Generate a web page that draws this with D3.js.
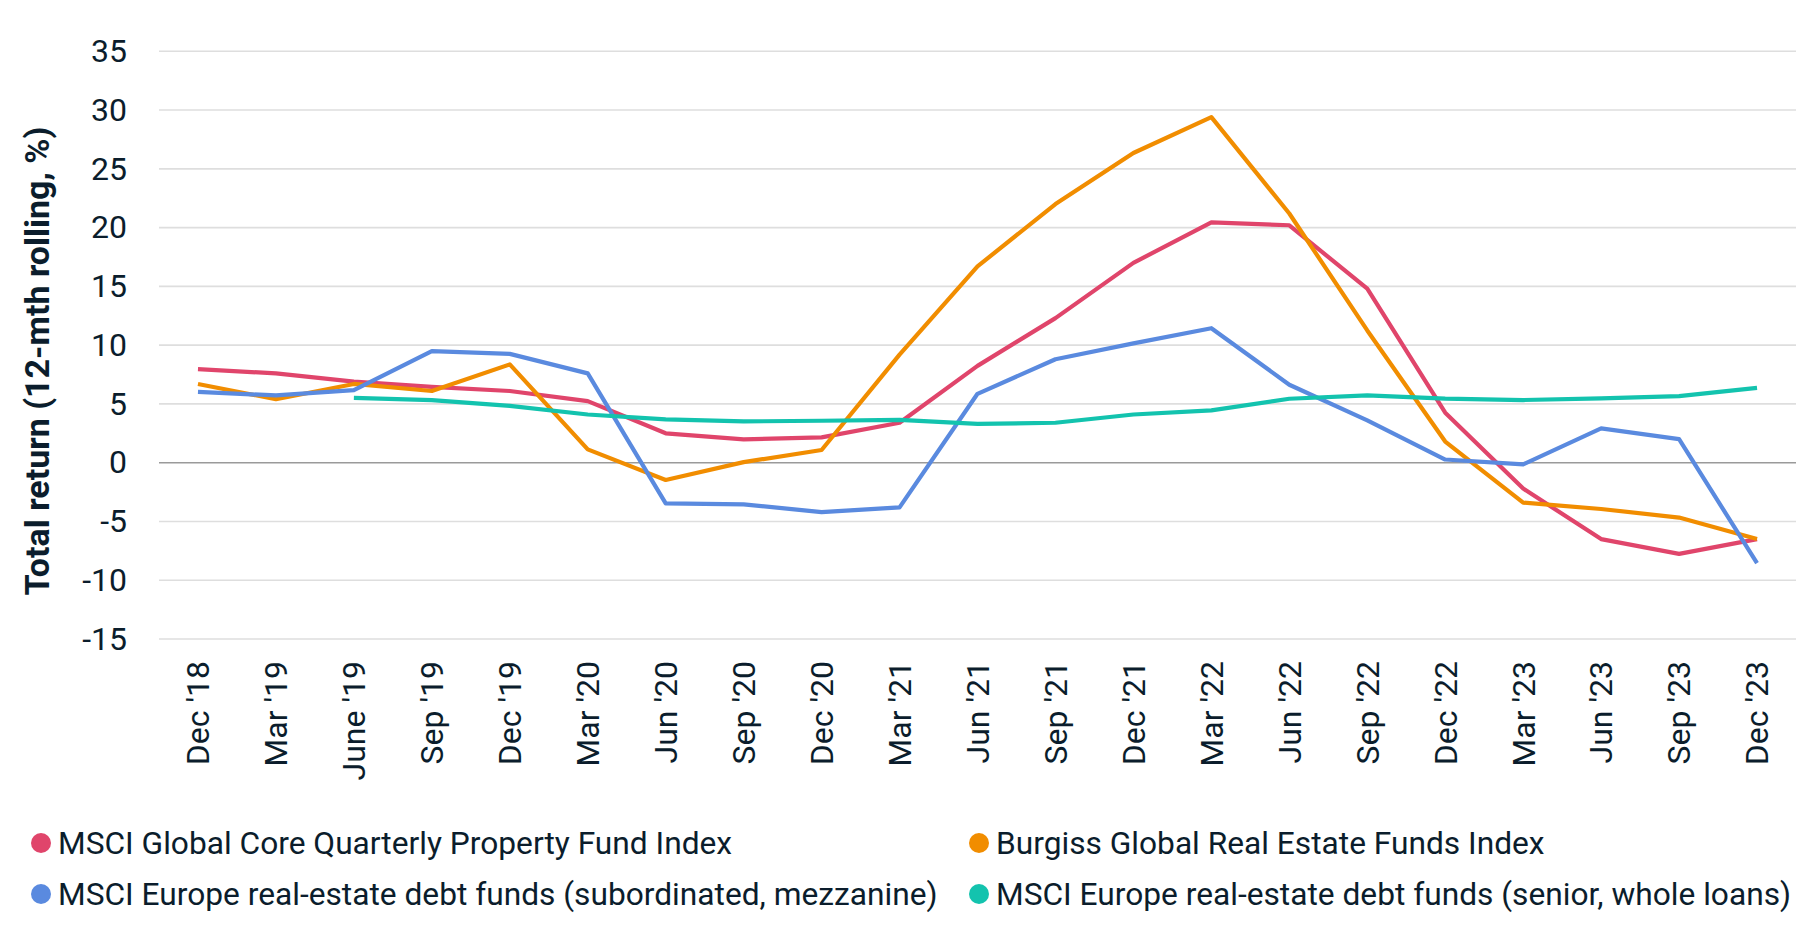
<!DOCTYPE html>
<html>
<head>
<meta charset="utf-8">
<script src="https://cdn.jsdelivr.net/npm/d3@7"></script>
<style>
  html, body { margin: 0; padding: 0; background: #fff; }
  svg { display: block; }
  text { font-family: Roboto, "Noto Sans", sans-serif; fill: #0b1d2c; }
</style>
</head>
<body>
<svg id="chart" width="1814" height="938"></svg>
<script>
const categories = ["Dec '18","Mar '19","June '19","Sep '19","Dec '19","Mar '20","Jun '20","Sep '20","Dec '20","Mar '21","Jun '21","Sep '21","Dec '21","Mar '22","Jun '22","Sep '22","Dec '22","Mar '23","Jun '23","Sep '23","Dec '23"];

const msciGlobalCore = [7.96, 7.6, 6.9, 6.45, 6.1, 5.24, 2.5, 1.98, 2.15, 3.4, 8.24, 12.3, 17.0, 20.45, 20.2, 14.8, 4.25, -2.2, -6.5, -7.76, -6.5];
const burgiss = [6.7, 5.4, 6.7, 6.1, 8.36, 1.13, -1.47, 0.05, 1.08, 9.2, 16.7, 22.0, 26.35, 29.4, 21.2, 11.25, 1.8, -3.4, -3.94, -4.67, -6.49];
const mezzanine = [6.03, 5.72, 6.18, 9.5, 9.26, 7.6, -3.46, -3.54, -4.2, -3.8, 5.86, 8.8, 10.15, 11.44, 6.63, 3.6, 0.27, -0.14, 2.92, 2.0, -8.55];
const senior = [null, null, 5.52, 5.33, 4.84, 4.1, 3.68, 3.51, 3.57, 3.65, 3.3, 3.4, 4.1, 4.45, 5.44, 5.72, 5.45, 5.33, 5.47, 5.67, 6.37];

const seriesNames = [
  "MSCI Global Core Quarterly Property Fund Index",
  "Burgiss Global Real Estate Funds Index",
  "MSCI Europe real-estate debt funds (subordinated, mezzanine)",
  "MSCI Europe real-estate debt funds (senior, whole loans)"
];
const seriesColors = ["#E0456B", "#F18D00", "#5A8ADF", "#13C3AE"];
const yTicks = [-15, -10, -5, 0, 5, 10, 15, 20, 25, 30, 35];
const yTitle = "Total return (12-mth rolling, %)";

const seriesValues = [msciGlobalCore, burgiss, mezzanine, senior];

(function () {
const svg = d3.select("#chart");
const mLeft = 159, mRight = 1796, mTop = 51.3, mBottom = 639;

const x = d3.scaleBand().domain(categories).range([mLeft, mRight]).padding(0);
const y = d3.scaleLinear().domain([-15, 35]).range([mBottom, mTop]);
const cx = d => x(d) + x.bandwidth() / 2;

// gridlines
const grid = svg.append("g");
grid.selectAll("line").data(yTicks).join("line")
  .attr("x1", mLeft).attr("x2", mRight)
  .attr("y1", d => y(d)).attr("y2", d => y(d))
  .attr("stroke", d => d === 0 ? "#9a9a9a" : "#dedede")
  .attr("stroke-width", 1.6);

// y axis tick labels via d3 axis
const yAxis = d3.axisLeft(y).tickValues(yTicks).tickSize(0).tickPadding(0).tickFormat(d => String(d));
const gy = svg.append("g").attr("transform", "translate(127,0)").call(yAxis);
gy.select(".domain").remove();
gy.selectAll("text").style("font-size", "32px").attr("fill", "#0b1d2c").style("font-family", "Roboto");

// x axis labels
const xAxis = d3.axisBottom(x).tickSize(0).tickPadding(0);
const gx = svg.append("g").attr("transform", "translate(0,661)").call(xAxis);
gx.select(".domain").remove();
gx.selectAll("text")
  .style("font-size", "32px").attr("fill", "#0b1d2c").style("font-family", "Roboto")
  .attr("transform", "rotate(-90)")
  .attr("text-anchor", "end")
  .attr("x", 0).attr("y", 0)
  .attr("dy", "0.355em");

// y title
svg.append("text")
  .attr("transform", "translate(37,361) rotate(-90)")
  .attr("text-anchor", "middle")
  .attr("dy", "0.355em")
  .style("font-size", "34px")
  .style("font-weight", "bold")
  .text(yTitle);

// lines
const line = d3.line()
  .defined(d => d.v !== null)
  .x(d => cx(d.c))
  .y(d => y(d.v));

seriesValues.forEach((vals, i) => {
  const data = categories.map((c, j) => ({ c, v: vals[j] }));
  svg.append("path")
    .datum(data)
    .attr("fill", "none")
    .attr("stroke", seriesColors[i])
    .attr("stroke-width", 4.2)
    .attr("stroke-linejoin", "round")
    .attr("d", line);
});

// legend
const legendPos = [[41, 843], [979, 843], [41, 894], [979, 894]];
const lg = svg.append("g");
seriesNames.forEach((name, i) => {
  const [lx, ly] = legendPos[i];
  lg.append("circle").attr("cx", lx).attr("cy", ly).attr("r", 10).attr("fill", seriesColors[i]);
  lg.append("text").attr("x", lx + 17).attr("y", ly).attr("dy", "0.355em")
    .style("font-size", "31.7px").text(name);
});
})();
</script>
</body>
</html>
